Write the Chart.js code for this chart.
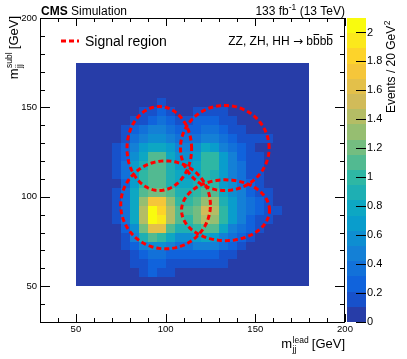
<!DOCTYPE html>
<html>
<head>
<meta charset="utf-8">
<script src="https://cdn.jsdelivr.net/npm/chart.js@4.4.1/dist/chart.umd.min.js"></script>
<style>
  body { margin: 0; background: #fff; }
  canvas { display: block; }
</style>
</head>
<body>
<canvas id="chart" width="407" height="359"></canvas>
<script>
// bin edges (GeV)
const leadEdges = [50, 55, 60, 65, 70, 75, 80, 85, 90, 95, 100, 105, 110, 115, 120, 125, 130, 135, 140, 145, 150, 155, 160, 165, 170, 175, 180];
const sublEdges = [50, 55, 60, 65, 70, 75, 80, 85, 90, 95, 100, 105, 110, 115, 120, 125, 130, 135, 140, 145, 150, 155, 160, 165, 170, 175];

// events per bin, rows from m_subl = 170-175 (top) down to 50-55 (bottom)
const eventsPerBin = [
  [0,0,0,0,0,0,0,0,0,0,0,0,0,0,0,0,0,0,0,0,0,0,0,0,0,0],
  [0,0,0,0,0,0,0,0,0,0,0,0,0,0,0,0,0,0,0,0,0,0,0,0,0,0],
  [0,0,0,0,0,0,0,0,0,0,0,0,0,0,0,0,0,0,0,0,0,0,0,0,0,0],
  [0,0,0,0,0,0,0,0,0,0,0,0,0,0,0,0,0,0,0,0,0,0,0,0,0,0],
  [0,0,0,0,0,0,0,0,0,.15,0,0,0,0,0,0,0,0,0,0,0,0,0,0,0,0],
  [0,0,0,0,0,0,0,.12,.2,.25,.15,0,0,.11,.14,.15,.12,0,0,0,0,0,0,0,0,0],
  [0,0,0,0,0,0,.12,.2,.3,.35,.25,.15,.15,.22,.28,.25,.2,.12,0,0,0,0,0,0,0,0],
  [0,0,0,0,0,.12,.22,.33,.45,.45,.35,.25,.25,.3,.38,.35,.28,.2,.13,0,0,0,0,0,0,0],
  [0,0,0,0,0,.18,.33,.5,.6,.62,.5,.38,.35,.42,.52,.5,.4,.3,.2,.13,.14,.12,0,0,0,0],
  [0,0,0,0,.11,.25,.45,.65,.8,.82,.65,.5,.45,.58,.75,.72,.52,.36,.25,.15,0,0,0,0,0,0],
  [0,0,0,0,.13,.3,.55,.8,1.05,1.1,.82,.6,.55,.72,.95,1.0,.7,.45,.3,.2,.12,0,0,0,0,0],
  [0,0,0,0,.14,.35,.65,.9,1.15,1.15,.9,.7,.65,.82,1.0,.98,.72,.5,.32,.2,.12,0,0,0,0,0],
  [0,0,0,0,.13,.35,.68,.95,1.1,1.1,.9,.75,.7,.82,.95,.9,.7,.5,.35,.2,.11,0,0,0,0,0],
  [0,0,0,0,.1,.3,.7,.95,1.05,1.05,.9,.8,.8,.9,1.0,.95,.7,.55,.4,.25,.15,0,0,0,0,0],
  [0,0,0,0,.12,.32,.78,1.1,1.25,1.25,1.05,.9,.9,1.0,1.15,1.05,.8,.6,.45,.3,.2,.12,0,0,0,0],
  [0,0,0,0,.16,.36,.8,1.35,1.7,1.7,1.3,1.0,1.0,1.15,1.35,1.3,.9,.65,.5,.35,.22,.13,0,0,0,0],
  [0,0,0,0,.18,.4,.8,1.45,2.05,1.88,1.42,1.1,1.05,1.25,1.55,1.45,1.0,.7,.5,.35,.25,.16,.13,0,0,0],
  [0,0,0,0,.15,.36,.75,1.4,2.1,1.98,1.4,1.05,1.0,1.2,1.45,1.35,.95,.65,.45,.3,.2,.12,0,0,0,0],
  [0,0,0,0,0,.3,.62,1.25,1.65,1.62,1.15,.85,.85,1.0,1.15,1.05,.75,.5,.35,.25,.14,0,0,0,0,0],
  [0,0,0,0,0,.2,.45,.85,1.05,1.0,.8,.6,.6,.7,.8,.7,.5,.35,.25,.15,0,0,0,0,0,0],
  [0,0,0,0,0,.12,.3,.5,.6,.6,.5,.4,.4,.45,.5,.45,.35,.25,.15,0,0,0,0,0,0,0],
  [0,0,0,0,0,0,.2,.3,.4,.35,.3,.25,.25,.3,.3,.25,.2,.13,0,0,0,0,0,0,0,0],
  [0,0,0,0,0,0,.12,.2,.3,.25,.2,.18,.15,.2,.2,.15,.12,0,0,0,0,0,0,0,0,0],
  [0,0,0,0,0,0,0,.15,.22,.18,.12,0,0,0,0,0,0,0,0,0,0,0,0,0,0,0],
  [0,0,0,0,0,0,0,0,0,0,0,0,0,0,0,0,0,0,0,0,0,0,0,0,0,0]
];

// signal region ellipses: centre and half-axes (GeV)
const regionCenterLead = [96.5, 133, 100, 133.4];
const regionCenterSubl = [127, 127.3, 95.5, 92.5];
const regionRadiusLead = [18, 24.7, 25, 24.5];
const regionRadiusSubl = [23.5, 23.8, 24.6, 17];

const leadTicks = [50, 100, 150, 200];
const sublTicks = [50, 100, 150, 200];
const zTicks = [0, 0.2, 0.4, 0.6, 0.8, 1, 1.2, 1.4, 1.6, 1.8, 2];
const zMax = 2.1;
const nContours = 20;

const FONT = '"Liberation Sans", Arial, sans-serif';

// ROOT kBird palette
const birdStops = [0, 0.125, 0.25, 0.375, 0.5, 0.625, 0.75, 0.875, 1];
const birdR = [0.2082, 0.0592, 0.0780, 0.0232, 0.1802, 0.5301, 0.8186, 0.9956, 0.9764];
const birdG = [0.1664, 0.3599, 0.5041, 0.6419, 0.7178, 0.7492, 0.7328, 0.7862, 0.9832];
const birdB = [0.5293, 0.8684, 0.8385, 0.7914, 0.6425, 0.4662, 0.3499, 0.1968, 0.0539];

function birdColor(t) {
    let k = 0;
    while (k < birdStops.length - 2 && t > birdStops[k + 1]) k++;
    const f = (t - birdStops[k]) / (birdStops[k + 1] - birdStops[k]);
    const c = arr => Math.round(255 * (arr[k] + f * (arr[k + 1] - arr[k])));
    return `rgb(${c(birdR)},${c(birdG)},${c(birdB)})`;
}

function levelColor(k) {
    const idx = Math.floor((k + 0.99) * 255 / nContours);
    return birdColor(Math.min(idx, 254) / 254);
}

function valueColor(v) {
    let k = Math.floor(v / (zMax / nContours));
    k = Math.max(0, Math.min(nContours - 1, k));
    return levelColor(k);
}

const hist2d = {
    id: 'hist2d',
    beforeDatasetsDraw(chart) {
        const {ctx, scales: {x, y}} = chart;
        ctx.save();
        eventsPerBin.forEach((row, r) => {
            const j = eventsPerBin.length - 1 - r;
            row.forEach((v, i) => {
                const x0 = Math.round(x.getPixelForValue(leadEdges[i]));
                const x1 = Math.round(x.getPixelForValue(leadEdges[i + 1]));
                const y0 = Math.round(y.getPixelForValue(sublEdges[j + 1]));
                const y1 = Math.round(y.getPixelForValue(sublEdges[j]));
                ctx.fillStyle = valueColor(v);
                ctx.fillRect(x0, y0, x1 - x0, y1 - y0);
            });
        });
        ctx.restore();
    }
};

const rootFrame = {
    id: 'rootFrame',
    afterDatasetsDraw(chart) {
        const {ctx, chartArea: a, scales: {x, y}} = chart;
        ctx.save();
        ctx.strokeStyle = '#000';
        ctx.lineWidth = 1;
        ctx.beginPath();
        for (let v = 30; v <= 200; v += 10) {
            const px = Math.round(x.getPixelForValue(v)) + 0.5;
            const len = leadTicks.includes(v) ? 8 : 4;
            ctx.moveTo(px, a.bottom); ctx.lineTo(px, a.bottom - len);
            ctx.moveTo(px, a.top); ctx.lineTo(px, a.top + len);
            const py = Math.round(y.getPixelForValue(v)) + 0.5;
            const leny = sublTicks.includes(v) ? 10 : 5;
            ctx.moveTo(a.left, py); ctx.lineTo(a.left + leny, py);
            ctx.moveTo(a.right, py); ctx.lineTo(a.right - leny, py);
        }
        ctx.stroke();
        ctx.strokeRect(Math.round(a.left) + 0.5, Math.round(a.top) + 0.5,
            Math.round(a.right - a.left) - 1, Math.round(a.bottom - a.top));
        ctx.restore();
    }
};

function drawMassTitle(ctx, sub, sup, endX, baseY) {
    ctx.font = `13px ${FONT}`;
    const wm = ctx.measureText('m').width;
    const wr = ctx.measureText(' [GeV]').width;
    ctx.font = `8.5px ${FONT}`;
    const ws = Math.max(ctx.measureText(sub).width, ctx.measureText(sup).width);
    let x0 = endX - (wm + ws + wr);
    ctx.textAlign = 'left';
    ctx.textBaseline = 'alphabetic';
    ctx.font = `13px ${FONT}`;
    ctx.fillText('m', x0, baseY);
    ctx.font = `8.5px ${FONT}`;
    ctx.fillText(sub, x0 + wm + 0.5, baseY + 4);
    ctx.fillText(sup, x0 + wm + 0.5, baseY - 5.5);
    ctx.font = `13px ${FONT}`;
    ctx.fillText(' [GeV]', x0 + wm + ws, baseY);
}

const annotations = {
    id: 'annotations',
    afterDraw(chart) {
        const {ctx, chartArea: a, scales: {z}} = chart;
        ctx.save();

        // colour palette
        const cx0 = a.right + 2, cx1 = a.right + 21;
        const step = zMax / nContours;
        for (let k = 0; k < nContours; k++) {
            const yb = Math.round(z.getPixelForValue(k * step));
            const yt = Math.round(z.getPixelForValue((k + 1) * step));
            ctx.fillStyle = levelColor(k);
            ctx.fillRect(cx0, yt, cx1 - cx0, yb - yt);
        }
        ctx.strokeStyle = '#000';
        ctx.lineWidth = 1;
        ctx.beginPath();
        zTicks.forEach(v => {
            const py = Math.round(z.getPixelForValue(v)) + 0.5;
            ctx.moveTo(cx1, py); ctx.lineTo(cx1 - 10, py);
        });
        ctx.stroke();

        ctx.fillStyle = '#000';
        ctx.textBaseline = 'alphabetic';

        // CMS label
        ctx.textAlign = 'left';
        ctx.font = `bold 12px ${FONT}`;
        ctx.fillText('CMS', 41, 15);
        const wc = ctx.measureText('CMS ').width;
        ctx.font = `12px ${FONT}`;
        ctx.fillText('Simulation', 41 + wc, 15);

        // luminosity
        ctx.textAlign = 'right';
        ctx.font = `12px ${FONT}`;
        const tail = ' (13 TeV)';
        ctx.fillText(tail, a.right, 15);
        const wt = ctx.measureText(tail).width;
        ctx.font = `8.5px ${FONT}`;
        ctx.fillText('-1', a.right - wt, 10);
        const wsup = ctx.measureText('-1').width;
        ctx.font = `12px ${FONT}`;
        ctx.fillText('133 fb', a.right - wt - wsup, 15);

        // process label with anti-b overlines
        const procHead = 'ZZ, ZH, HH ';
        const arrow = '\u2192';
        const procTail = ' bbbb';
        ctx.textAlign = 'left';
        ctx.font = `12px ${FONT}`;
        const wh = ctx.measureText(procHead).width;
        const wtl = ctx.measureText(procTail).width;
        ctx.font = `12px "DejaVu Sans", ${FONT}`;
        const wa = ctx.measureText(arrow).width;
        const px0 = 333 - wh - wa - wtl;
        ctx.font = `12px ${FONT}`;
        ctx.fillText(procHead, px0, 45);
        ctx.fillText(procTail, px0 + wh + wa, 45);
        ctx.font = `12px "DejaVu Sans", ${FONT}`;
        ctx.fillText(arrow, px0 + wh, 45);
        ctx.font = `12px ${FONT}`;
        const wb = ctx.measureText('b').width;
        const wsp = ctx.measureText(' ').width;
        ctx.beginPath();
        [1, 3].forEach(n => {
            const bx = px0 + wh + wa + wsp + n * wb;
            ctx.moveTo(bx + 0.5, 34.5); ctx.lineTo(bx + wb - 0.5, 34.5);
        });
        ctx.stroke();

        // legend
        ctx.save();
        ctx.strokeStyle = '#ff0000';
        ctx.lineWidth = 3;
        ctx.setLineDash([5, 3]);
        ctx.beginPath();
        ctx.moveTo(61, 41); ctx.lineTo(79, 41);
        ctx.stroke();
        ctx.restore();
        ctx.font = `14px ${FONT}`;
        ctx.textAlign = 'left';
        ctx.fillText('Signal region', 85, 45.5);

        // axis titles
        drawMassTitle(ctx, 'jj', 'lead', a.right, 348);
        ctx.save();
        ctx.translate(17.5, 0);
        ctx.rotate(-Math.PI / 2);
        drawMassTitle(ctx, 'jj', 'subl', -16, 0);
        ctx.restore();

        // palette title
        ctx.save();
        ctx.translate(395, 0);
        ctx.rotate(-Math.PI / 2);
        ctx.textAlign = 'left';
        ctx.font = `8.5px ${FONT}`;
        const w2 = ctx.measureText('2').width;
        ctx.font = `12px ${FONT}`;
        const ztitle = 'Events / 20 GeV';
        const wz = ctx.measureText(ztitle).width;
        const zx0 = -21 - w2 - wz;
        ctx.fillText(ztitle, zx0, 0);
        ctx.font = `8.5px ${FONT}`;
        ctx.fillText('2', zx0 + wz + 0.5, -5.5);
        ctx.restore();

        ctx.restore();
    }
};

const regionDatasets = regionCenterLead.map((cx, r) => {
    const pts = [];
    for (let k = 0; k <= 120; k++) {
        const t = (k / 120) * 2 * Math.PI;
        pts.push({
            x: cx + regionRadiusLead[r] * Math.cos(t),
            y: regionCenterSubl[r] + regionRadiusSubl[r] * Math.sin(t)
        });
    }
    return {
        label: 'Signal region',
        data: pts,
        showLine: true,
        borderColor: '#ff0000',
        borderWidth: 3,
        borderDash: [5, 3],
        pointRadius: 0,
        fill: false,
        tension: 0
    };
});

const tickFont = {family: FONT, size: 9.5};

new Chart(document.getElementById('chart'), {
    type: 'scatter',
    data: {datasets: regionDatasets},
    options: {
        responsive: false,
        animation: false,
        devicePixelRatio: 1,
        layout: {padding: {top: 18, left: 0, right: 0, bottom: 0}},
        plugins: {legend: {display: false}, tooltip: {enabled: false}},
        scales: {
            x: {
                type: 'linear', position: 'bottom', min: 30, max: 200,
                afterBuildTicks: s => { s.ticks = leadTicks.map(v => ({value: v})); },
                afterFit: s => { s.height = 37; },
                grid: {display: false, drawTicks: false},
                border: {display: false},
                ticks: {font: tickFont, color: '#000', padding: 2, maxRotation: 0, autoSkip: false, callback: v => String(v)}
            },
            y: {
                type: 'linear', position: 'left', min: 30, max: 200,
                afterBuildTicks: s => { s.ticks = sublTicks.map(v => ({value: v})); },
                afterFit: s => { s.width = 40; },
                grid: {display: false, drawTicks: false},
                border: {display: false},
                ticks: {font: tickFont, color: '#000', padding: 3, autoSkip: false, callback: v => String(v)}
            },
            z: {
                type: 'linear', axis: 'y', position: 'right', min: 0, max: zMax,
                afterBuildTicks: s => { s.ticks = zTicks.map(v => ({value: v})); },
                afterFit: s => { s.width = 62; },
                grid: {display: false, drawTicks: true, tickLength: 20},
                border: {display: false},
                ticks: {font: {family: FONT, size: 11}, color: '#000', padding: 2, autoSkip: false,
                        callback: v => String(Math.round(v * 10) / 10)}
            }
        }
    },
    plugins: [hist2d, rootFrame, annotations]
});
</script>
</body>
</html>
